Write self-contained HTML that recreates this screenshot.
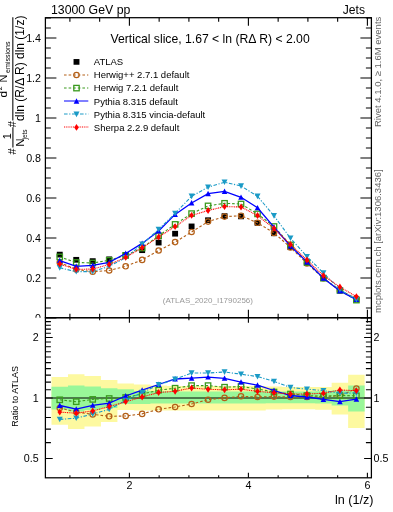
<!DOCTYPE html>
<html><head><meta charset="utf-8"><title>plot</title>
<style>html,body{margin:0;padding:0;background:#fff;}body{width:393px;height:512px;overflow:hidden;}svg{display:block;will-change:transform;font-family:"Liberation Sans",sans-serif;}</style>
</head><body><svg width="393" height="512" viewBox="0 0 393 512" font-family="Liberation Sans, sans-serif"><path d="M51.5 377.1H67.98V374.3H84.46V376H100.94V380.1H117.42V383.5H133.9V384.5H150.38V385.5H166.86V386H183.34V386H199.82V386H216.3V386H232.78V386H249.26V386H265.74V386.5H282.22V387H298.7V387H315.18V386.9H331.66V382.8H348.14V374.8H364.62V428H348.14V414.4H331.66V409.8H315.18V409.3H298.7V409.3H282.22V409.5H265.74V410.5H249.26V410.5H232.78V410.5H216.3V410.5H199.82V410.5H183.34V410.5H166.86V410.5H150.38V410.5H133.9V410H117.42V422H100.94V426.5H84.46V429H67.98V424.7H51.5Z" fill="#fdf9a0"/><path d="M51.5 386.7H67.98V385.5H84.46V386.4H100.94V388.2H117.42V389.2H133.9V391H150.38V391.3H166.86V391.5H183.34V391.5H199.82V391.5H216.3V391.5H232.78V391.5H249.26V391.5H265.74V391.5H282.22V391.5H298.7V391.5H315.18V391.2H331.66V390.3H348.14V385.5H364.62V411.5H348.14V405.4H331.66V403.5H315.18V403.2H298.7V403.2H282.22V403.3H265.74V403.5H249.26V403.5H232.78V403.5H216.3V403.5H199.82V403.5H183.34V403.5H166.86V403.5H150.38V404H133.9V404H117.42V408H100.94V410H84.46V411.5H67.98V409.5H51.5Z" fill="#99f799"/><line x1="45.4" y1="398" x2="371.4" y2="398" stroke="#000" stroke-width="1.0"/><rect x="45.4" y="17.7" width="326" height="300" fill="none" stroke="#000" stroke-width="1.25"/><rect x="45.4" y="317.7" width="326" height="160.1" fill="none" stroke="#000" stroke-width="1.25"/><path d="M45.4 318h11M371.4 318h-11M45.4 308h5.5M371.4 308h-5.5M45.4 298h5.5M371.4 298h-5.5M45.4 288h5.5M371.4 288h-5.5M45.4 278h11M371.4 278h-11M45.4 268h5.5M371.4 268h-5.5M45.4 258h5.5M371.4 258h-5.5M45.4 248h5.5M371.4 248h-5.5M45.4 238h11M371.4 238h-11M45.4 228h5.5M371.4 228h-5.5M45.4 218h5.5M371.4 218h-5.5M45.4 208h5.5M371.4 208h-5.5M45.4 198h11M371.4 198h-11M45.4 188h5.5M371.4 188h-5.5M45.4 178h5.5M371.4 178h-5.5M45.4 168h5.5M371.4 168h-5.5M45.4 158h11M371.4 158h-11M45.4 148h5.5M371.4 148h-5.5M45.4 138h5.5M371.4 138h-5.5M45.4 128h5.5M371.4 128h-5.5M45.4 118h11M371.4 118h-11M45.4 108h5.5M371.4 108h-5.5M45.4 98h5.5M371.4 98h-5.5M45.4 88h5.5M371.4 88h-5.5M45.4 78h11M371.4 78h-11M45.4 68h5.5M371.4 68h-5.5M45.4 58h5.5M371.4 58h-5.5M45.4 48h5.5M371.4 48h-5.5M45.4 38h11M371.4 38h-11M45.4 28h5.5M371.4 28h-5.5M45.4 18h5.5M371.4 18h-5.5M69.9 317.7v-4M69.9 17.7v4M69.9 477.8v-2.5M69.9 317.7v2.5M99.65 317.7v-4M99.65 17.7v4M99.65 477.8v-2.5M99.65 317.7v2.5M129.4 317.7v-8M129.4 17.7v8M129.4 477.8v-5M129.4 317.7v5M159.15 317.7v-4M159.15 17.7v4M159.15 477.8v-2.5M159.15 317.7v2.5M188.9 317.7v-4M188.9 17.7v4M188.9 477.8v-2.5M188.9 317.7v2.5M218.65 317.7v-4M218.65 17.7v4M218.65 477.8v-2.5M218.65 317.7v2.5M248.4 317.7v-8M248.4 17.7v8M248.4 477.8v-5M248.4 317.7v5M278.15 317.7v-4M278.15 17.7v4M278.15 477.8v-2.5M278.15 317.7v2.5M307.9 317.7v-4M307.9 17.7v4M307.9 477.8v-2.5M307.9 317.7v2.5M337.65 317.7v-4M337.65 17.7v4M337.65 477.8v-2.5M337.65 317.7v2.5M367.4 317.7v-8M367.4 17.7v8M367.4 477.8v-5M367.4 317.7v5M45.4 458.51h7.3M371.4 458.51h-7.3M45.4 442.59h5.5M371.4 442.59h-5.5M45.4 429.14h5.5M371.4 429.14h-5.5M45.4 417.48h5.5M371.4 417.48h-5.5M45.4 407.2h5.5M371.4 407.2h-5.5M45.4 398h7.3M371.4 398h-7.3M45.4 389.68h5.5M371.4 389.68h-5.5M45.4 382.08h5.5M371.4 382.08h-5.5M45.4 375.1h5.5M371.4 375.1h-5.5M45.4 368.63h5.5M371.4 368.63h-5.5M45.4 362.61h5.5M371.4 362.61h-5.5M45.4 356.97h5.5M371.4 356.97h-5.5M45.4 351.68h5.5M371.4 351.68h-5.5M45.4 346.69h5.5M371.4 346.69h-5.5M45.4 341.97h5.5M371.4 341.97h-5.5M45.4 337.49h7.3M371.4 337.49h-7.3M45.4 333.23h5.5M371.4 333.23h-5.5M45.4 329.17h5.5M371.4 329.17h-5.5M45.4 325.29h5.5M371.4 325.29h-5.5M45.4 321.58h5.5M371.4 321.58h-5.5" stroke="#000" stroke-width="1.1" fill="none"/><rect x="56.8" y="251.75" width="5.9" height="5.7" fill="#000"/><rect x="73.28" y="256.95" width="5.9" height="5.7" fill="#000"/><rect x="89.76" y="258.25" width="5.9" height="5.7" fill="#000"/><rect x="106.24" y="256.45" width="5.9" height="5.7" fill="#000"/><rect x="122.72" y="252.05" width="5.9" height="5.7" fill="#000"/><rect x="139.2" y="247.35" width="5.9" height="5.7" fill="#000"/><rect x="155.68" y="239.75" width="5.9" height="5.7" fill="#000"/><rect x="172.16" y="230.85" width="5.9" height="5.7" fill="#000"/><rect x="188.64" y="223.55" width="5.9" height="5.7" fill="#000"/><rect x="205.12" y="217.35" width="5.9" height="5.7" fill="#000"/><rect x="221.6" y="213.25" width="5.9" height="5.7" fill="#000"/><rect x="238.08" y="213.55" width="5.9" height="5.7" fill="#000"/><rect x="254.56" y="220.05" width="5.9" height="5.7" fill="#000"/><rect x="271.04" y="230.45" width="5.9" height="5.7" fill="#000"/><rect x="287.52" y="244.35" width="5.9" height="5.7" fill="#000"/><rect x="304" y="260.15" width="5.9" height="5.7" fill="#000"/><rect x="320.48" y="275.15" width="5.9" height="5.7" fill="#000"/><rect x="336.96" y="287.35" width="5.9" height="5.7" fill="#000"/><rect x="353.44" y="296.75" width="5.9" height="5.7" fill="#000"/><path d="M59.75 262.5 L76.23 269.4 L92.71 271.8 L109.19 270.5 L125.67 266.3 L142.15 259.9 L158.63 250.5 L175.11 242.1 L191.59 232 L208.07 221.6 L224.55 216.6 L241.03 215.7 L257.51 222.8 L273.99 232.9 L290.47 247.4 L306.95 263.4 L323.43 278.3 L339.91 290.5 L356.39 298.5" fill="none" stroke="#b35f17" stroke-width="1.1" stroke-dasharray="2.6,2.0"/><circle cx="59.75" cy="262.5" r="2.7" fill="none" stroke="#b35f17" stroke-width="1.2"/><circle cx="76.23" cy="269.4" r="2.7" fill="none" stroke="#b35f17" stroke-width="1.2"/><circle cx="92.71" cy="271.8" r="2.7" fill="none" stroke="#b35f17" stroke-width="1.2"/><circle cx="109.19" cy="270.5" r="2.7" fill="none" stroke="#b35f17" stroke-width="1.2"/><circle cx="125.67" cy="266.3" r="2.7" fill="none" stroke="#b35f17" stroke-width="1.2"/><circle cx="142.15" cy="259.9" r="2.7" fill="none" stroke="#b35f17" stroke-width="1.2"/><circle cx="158.63" cy="250.5" r="2.7" fill="none" stroke="#b35f17" stroke-width="1.2"/><circle cx="175.11" cy="242.1" r="2.7" fill="none" stroke="#b35f17" stroke-width="1.2"/><circle cx="191.59" cy="232" r="2.7" fill="none" stroke="#b35f17" stroke-width="1.2"/><circle cx="208.07" cy="221.6" r="2.7" fill="none" stroke="#b35f17" stroke-width="1.2"/><circle cx="224.55" cy="216.6" r="2.7" fill="none" stroke="#b35f17" stroke-width="1.2"/><circle cx="241.03" cy="215.7" r="2.7" fill="none" stroke="#b35f17" stroke-width="1.2"/><circle cx="257.51" cy="222.8" r="2.7" fill="none" stroke="#b35f17" stroke-width="1.2"/><circle cx="273.99" cy="232.9" r="2.7" fill="none" stroke="#b35f17" stroke-width="1.2"/><circle cx="290.47" cy="247.4" r="2.7" fill="none" stroke="#b35f17" stroke-width="1.2"/><circle cx="306.95" cy="263.4" r="2.7" fill="none" stroke="#b35f17" stroke-width="1.2"/><circle cx="323.43" cy="278.3" r="2.7" fill="none" stroke="#b35f17" stroke-width="1.2"/><circle cx="339.91" cy="290.5" r="2.7" fill="none" stroke="#b35f17" stroke-width="1.2"/><circle cx="356.39" cy="298.5" r="2.7" fill="none" stroke="#b35f17" stroke-width="1.2"/><path d="M59.75 256.9 L76.23 262.5 L92.71 263 L109.19 260.3 L125.67 255.5 L142.15 248 L158.63 235.8 L175.11 224.4 L191.59 213.6 L208.07 205.9 L224.55 203.3 L241.03 204 L257.51 213.9 L273.99 226.5 L290.47 244.9 L306.95 262.4 L323.43 278.2 L339.91 290.4 L356.39 300.1" fill="none" stroke="#3a9a1e" stroke-width="1.1" stroke-dasharray="2.6,2.0"/><rect x="57.05" y="254.2" width="5.4" height="5.4" fill="none" stroke="#3a9a1e" stroke-width="1.3"/><rect x="73.53" y="259.8" width="5.4" height="5.4" fill="none" stroke="#3a9a1e" stroke-width="1.3"/><rect x="90.01" y="260.3" width="5.4" height="5.4" fill="none" stroke="#3a9a1e" stroke-width="1.3"/><rect x="106.49" y="257.6" width="5.4" height="5.4" fill="none" stroke="#3a9a1e" stroke-width="1.3"/><rect x="122.97" y="252.8" width="5.4" height="5.4" fill="none" stroke="#3a9a1e" stroke-width="1.3"/><rect x="139.45" y="245.3" width="5.4" height="5.4" fill="none" stroke="#3a9a1e" stroke-width="1.3"/><rect x="155.93" y="233.1" width="5.4" height="5.4" fill="none" stroke="#3a9a1e" stroke-width="1.3"/><rect x="172.41" y="221.7" width="5.4" height="5.4" fill="none" stroke="#3a9a1e" stroke-width="1.3"/><rect x="188.89" y="210.9" width="5.4" height="5.4" fill="none" stroke="#3a9a1e" stroke-width="1.3"/><rect x="205.37" y="203.2" width="5.4" height="5.4" fill="none" stroke="#3a9a1e" stroke-width="1.3"/><rect x="221.85" y="200.6" width="5.4" height="5.4" fill="none" stroke="#3a9a1e" stroke-width="1.3"/><rect x="238.33" y="201.3" width="5.4" height="5.4" fill="none" stroke="#3a9a1e" stroke-width="1.3"/><rect x="254.81" y="211.2" width="5.4" height="5.4" fill="none" stroke="#3a9a1e" stroke-width="1.3"/><rect x="271.29" y="223.8" width="5.4" height="5.4" fill="none" stroke="#3a9a1e" stroke-width="1.3"/><rect x="287.77" y="242.2" width="5.4" height="5.4" fill="none" stroke="#3a9a1e" stroke-width="1.3"/><rect x="304.25" y="259.7" width="5.4" height="5.4" fill="none" stroke="#3a9a1e" stroke-width="1.3"/><rect x="320.73" y="275.5" width="5.4" height="5.4" fill="none" stroke="#3a9a1e" stroke-width="1.3"/><rect x="337.21" y="287.7" width="5.4" height="5.4" fill="none" stroke="#3a9a1e" stroke-width="1.3"/><rect x="353.69" y="297.4" width="5.4" height="5.4" fill="none" stroke="#3a9a1e" stroke-width="1.3"/><path d="M59.75 260.6 L76.23 266.3 L92.71 265.4 L109.19 262.4 L125.67 253.5 L142.15 243.4 L158.63 230.9 L175.11 214.4 L191.59 203 L208.07 193.7 L224.55 191.4 L241.03 197.3 L257.51 207.8 L273.99 227.2 L290.47 246.1 L306.95 261.9 L323.43 278.2 L339.91 290.9 L356.39 299.6" fill="none" stroke="#0000ff" stroke-width="1.3"/><path d="M56.95 263.1L62.55 263.1L59.75 257.7Z" fill="#0000ff"/><path d="M73.43 268.8L79.03 268.8L76.23 263.4Z" fill="#0000ff"/><path d="M89.91 267.9L95.51 267.9L92.71 262.5Z" fill="#0000ff"/><path d="M106.39 264.9L111.99 264.9L109.19 259.5Z" fill="#0000ff"/><path d="M122.87 256L128.47 256L125.67 250.6Z" fill="#0000ff"/><path d="M139.35 245.9L144.95 245.9L142.15 240.5Z" fill="#0000ff"/><path d="M155.83 233.4L161.43 233.4L158.63 228Z" fill="#0000ff"/><path d="M172.31 216.9L177.91 216.9L175.11 211.5Z" fill="#0000ff"/><path d="M188.79 205.5L194.39 205.5L191.59 200.1Z" fill="#0000ff"/><path d="M205.27 196.2L210.87 196.2L208.07 190.8Z" fill="#0000ff"/><path d="M221.75 193.9L227.35 193.9L224.55 188.5Z" fill="#0000ff"/><path d="M238.23 199.8L243.83 199.8L241.03 194.4Z" fill="#0000ff"/><path d="M254.71 210.3L260.31 210.3L257.51 204.9Z" fill="#0000ff"/><path d="M271.19 229.7L276.79 229.7L273.99 224.3Z" fill="#0000ff"/><path d="M287.67 248.6L293.27 248.6L290.47 243.2Z" fill="#0000ff"/><path d="M304.15 264.4L309.75 264.4L306.95 259Z" fill="#0000ff"/><path d="M320.63 280.7L326.23 280.7L323.43 275.3Z" fill="#0000ff"/><path d="M337.11 293.4L342.71 293.4L339.91 288Z" fill="#0000ff"/><path d="M353.59 302.1L359.19 302.1L356.39 296.7Z" fill="#0000ff"/><path d="M59.75 267.8 L76.23 271.7 L92.71 271.6 L109.19 266.3 L125.67 257.7 L142.15 244.2 L158.63 229.4 L175.11 213.4 L191.59 196.3 L208.07 187.2 L224.55 182.2 L241.03 186 L257.51 196.3 L273.99 215.8 L290.47 238.2 L306.95 256.6 L323.43 272.9 L339.91 289.6 L356.39 299.5" fill="none" stroke="#1a9ac6" stroke-width="1.1" stroke-dasharray="3.6,1.6,1.2,1.6"/><path d="M56.75 265.1L62.75 265.1L59.75 270.7Z" fill="#1a9ac6"/><path d="M73.23 269L79.23 269L76.23 274.6Z" fill="#1a9ac6"/><path d="M89.71 268.9L95.71 268.9L92.71 274.5Z" fill="#1a9ac6"/><path d="M106.19 263.6L112.19 263.6L109.19 269.2Z" fill="#1a9ac6"/><path d="M122.67 255L128.67 255L125.67 260.6Z" fill="#1a9ac6"/><path d="M139.15 241.5L145.15 241.5L142.15 247.1Z" fill="#1a9ac6"/><path d="M155.63 226.7L161.63 226.7L158.63 232.3Z" fill="#1a9ac6"/><path d="M172.11 210.7L178.11 210.7L175.11 216.3Z" fill="#1a9ac6"/><path d="M188.59 193.6L194.59 193.6L191.59 199.2Z" fill="#1a9ac6"/><path d="M205.07 184.5L211.07 184.5L208.07 190.1Z" fill="#1a9ac6"/><path d="M221.55 179.5L227.55 179.5L224.55 185.1Z" fill="#1a9ac6"/><path d="M238.03 183.3L244.03 183.3L241.03 188.9Z" fill="#1a9ac6"/><path d="M254.51 193.6L260.51 193.6L257.51 199.2Z" fill="#1a9ac6"/><path d="M270.99 213.1L276.99 213.1L273.99 218.7Z" fill="#1a9ac6"/><path d="M287.47 235.5L293.47 235.5L290.47 241.1Z" fill="#1a9ac6"/><path d="M303.95 253.9L309.95 253.9L306.95 259.5Z" fill="#1a9ac6"/><path d="M320.43 270.2L326.43 270.2L323.43 275.8Z" fill="#1a9ac6"/><path d="M336.91 286.9L342.91 286.9L339.91 292.5Z" fill="#1a9ac6"/><path d="M353.39 296.8L359.39 296.8L356.39 302.4Z" fill="#1a9ac6"/><path d="M59.75 264 L76.23 269.4 L92.71 269 L109.19 264.4 L125.67 257.4 L142.15 247.7 L158.63 237 L175.11 226.6 L191.59 215.4 L208.07 210.5 L224.55 206.6 L241.03 207 L257.51 215.5 L273.99 228.5 L290.47 244.4 L306.95 260 L323.43 275.6 L339.91 287 L356.39 296.6" fill="none" stroke="#ff0000" stroke-width="1.1" stroke-dasharray="1,0.8"/><path d="M59.75 260.6L62.05 264L59.75 267.4L57.45 264Z" fill="#ff0000"/><path d="M76.23 266L78.53 269.4L76.23 272.8L73.93 269.4Z" fill="#ff0000"/><path d="M92.71 265.6L95.01 269L92.71 272.4L90.41 269Z" fill="#ff0000"/><path d="M109.19 261L111.49 264.4L109.19 267.8L106.89 264.4Z" fill="#ff0000"/><path d="M125.67 254L127.97 257.4L125.67 260.8L123.37 257.4Z" fill="#ff0000"/><path d="M142.15 244.3L144.45 247.7L142.15 251.1L139.85 247.7Z" fill="#ff0000"/><path d="M158.63 233.6L160.93 237L158.63 240.4L156.33 237Z" fill="#ff0000"/><path d="M175.11 223.2L177.41 226.6L175.11 230L172.81 226.6Z" fill="#ff0000"/><path d="M191.59 212L193.89 215.4L191.59 218.8L189.29 215.4Z" fill="#ff0000"/><path d="M208.07 207.1L210.37 210.5L208.07 213.9L205.77 210.5Z" fill="#ff0000"/><path d="M224.55 203.2L226.85 206.6L224.55 210L222.25 206.6Z" fill="#ff0000"/><path d="M241.03 203.6L243.33 207L241.03 210.4L238.73 207Z" fill="#ff0000"/><path d="M257.51 212.1L259.81 215.5L257.51 218.9L255.21 215.5Z" fill="#ff0000"/><path d="M273.99 225.1L276.29 228.5L273.99 231.9L271.69 228.5Z" fill="#ff0000"/><path d="M290.47 241L292.77 244.4L290.47 247.8L288.17 244.4Z" fill="#ff0000"/><path d="M306.95 256.6L309.25 260L306.95 263.4L304.65 260Z" fill="#ff0000"/><path d="M323.43 272.2L325.73 275.6L323.43 279L321.13 275.6Z" fill="#ff0000"/><path d="M339.91 283.6L342.21 287L339.91 290.4L337.61 287Z" fill="#ff0000"/><path d="M356.39 293.2L358.69 296.6L356.39 300L354.09 296.6Z" fill="#ff0000"/><path d="M59.75 408 L76.23 412 L92.71 414.4 L109.19 416.3 L125.67 416 L142.15 413.9 L158.63 409.3 L175.11 407 L191.59 404 L208.07 399.7 L224.55 397.9 L241.03 396.3 L257.51 397 L273.99 396.6 L290.47 397 L306.95 397 L323.43 396.5 L339.91 395.8 L356.39 388.5" fill="none" stroke="#b35f17" stroke-width="1.1" stroke-dasharray="2.6,2.0"/><circle cx="59.75" cy="408" r="2.7" fill="none" stroke="#b35f17" stroke-width="1.2"/><circle cx="76.23" cy="412" r="2.7" fill="none" stroke="#b35f17" stroke-width="1.2"/><circle cx="92.71" cy="414.4" r="2.7" fill="none" stroke="#b35f17" stroke-width="1.2"/><circle cx="109.19" cy="416.3" r="2.7" fill="none" stroke="#b35f17" stroke-width="1.2"/><circle cx="125.67" cy="416" r="2.7" fill="none" stroke="#b35f17" stroke-width="1.2"/><circle cx="142.15" cy="413.9" r="2.7" fill="none" stroke="#b35f17" stroke-width="1.2"/><circle cx="158.63" cy="409.3" r="2.7" fill="none" stroke="#b35f17" stroke-width="1.2"/><circle cx="175.11" cy="407" r="2.7" fill="none" stroke="#b35f17" stroke-width="1.2"/><circle cx="191.59" cy="404" r="2.7" fill="none" stroke="#b35f17" stroke-width="1.2"/><circle cx="208.07" cy="399.7" r="2.7" fill="none" stroke="#b35f17" stroke-width="1.2"/><circle cx="224.55" cy="397.9" r="2.7" fill="none" stroke="#b35f17" stroke-width="1.2"/><circle cx="241.03" cy="396.3" r="2.7" fill="none" stroke="#b35f17" stroke-width="1.2"/><circle cx="257.51" cy="397" r="2.7" fill="none" stroke="#b35f17" stroke-width="1.2"/><circle cx="273.99" cy="396.6" r="2.7" fill="none" stroke="#b35f17" stroke-width="1.2"/><circle cx="290.47" cy="397" r="2.7" fill="none" stroke="#b35f17" stroke-width="1.2"/><circle cx="306.95" cy="397" r="2.7" fill="none" stroke="#b35f17" stroke-width="1.2"/><circle cx="323.43" cy="396.5" r="2.7" fill="none" stroke="#b35f17" stroke-width="1.2"/><circle cx="339.91" cy="395.8" r="2.7" fill="none" stroke="#b35f17" stroke-width="1.2"/><circle cx="356.39" cy="388.5" r="2.7" fill="none" stroke="#b35f17" stroke-width="1.2"/><path d="M59.75 399.8 L76.23 401.7 L92.71 399.4 L109.19 398.5 L125.67 397.5 L142.15 394 L158.63 390.2 L175.11 388.2 L191.59 385.6 L208.07 385.6 L224.55 387.2 L241.03 386.5 L257.51 389 L273.99 392 L290.47 394 L306.95 395.5 L323.43 396.3 L339.91 395.5 L356.39 395.8" fill="none" stroke="#3a9a1e" stroke-width="1.1" stroke-dasharray="2.6,2.0"/><rect x="57.05" y="397.1" width="5.4" height="5.4" fill="none" stroke="#3a9a1e" stroke-width="1.3"/><rect x="73.53" y="399" width="5.4" height="5.4" fill="none" stroke="#3a9a1e" stroke-width="1.3"/><rect x="90.01" y="396.7" width="5.4" height="5.4" fill="none" stroke="#3a9a1e" stroke-width="1.3"/><rect x="106.49" y="395.8" width="5.4" height="5.4" fill="none" stroke="#3a9a1e" stroke-width="1.3"/><rect x="122.97" y="394.8" width="5.4" height="5.4" fill="none" stroke="#3a9a1e" stroke-width="1.3"/><rect x="139.45" y="391.3" width="5.4" height="5.4" fill="none" stroke="#3a9a1e" stroke-width="1.3"/><rect x="155.93" y="387.5" width="5.4" height="5.4" fill="none" stroke="#3a9a1e" stroke-width="1.3"/><rect x="172.41" y="385.5" width="5.4" height="5.4" fill="none" stroke="#3a9a1e" stroke-width="1.3"/><rect x="188.89" y="382.9" width="5.4" height="5.4" fill="none" stroke="#3a9a1e" stroke-width="1.3"/><rect x="205.37" y="382.9" width="5.4" height="5.4" fill="none" stroke="#3a9a1e" stroke-width="1.3"/><rect x="221.85" y="384.5" width="5.4" height="5.4" fill="none" stroke="#3a9a1e" stroke-width="1.3"/><rect x="238.33" y="383.8" width="5.4" height="5.4" fill="none" stroke="#3a9a1e" stroke-width="1.3"/><rect x="254.81" y="386.3" width="5.4" height="5.4" fill="none" stroke="#3a9a1e" stroke-width="1.3"/><rect x="271.29" y="389.3" width="5.4" height="5.4" fill="none" stroke="#3a9a1e" stroke-width="1.3"/><rect x="287.77" y="391.3" width="5.4" height="5.4" fill="none" stroke="#3a9a1e" stroke-width="1.3"/><rect x="304.25" y="392.8" width="5.4" height="5.4" fill="none" stroke="#3a9a1e" stroke-width="1.3"/><rect x="320.73" y="393.6" width="5.4" height="5.4" fill="none" stroke="#3a9a1e" stroke-width="1.3"/><rect x="337.21" y="392.8" width="5.4" height="5.4" fill="none" stroke="#3a9a1e" stroke-width="1.3"/><rect x="353.69" y="393.1" width="5.4" height="5.4" fill="none" stroke="#3a9a1e" stroke-width="1.3"/><path d="M59.75 405.5 L76.23 409.1 L92.71 405.3 L109.19 403.2 L125.67 396 L142.15 390.2 L158.63 384.5 L175.11 379 L191.59 378.2 L208.07 377.1 L224.55 378.3 L241.03 382.1 L257.51 385.2 L273.99 390.5 L290.47 395.5 L306.95 397 L323.43 399.4 L339.91 401.7 L356.39 399.2" fill="none" stroke="#0000ff" stroke-width="1.3"/><path d="M56.95 408L62.55 408L59.75 402.6Z" fill="#0000ff"/><path d="M73.43 411.6L79.03 411.6L76.23 406.2Z" fill="#0000ff"/><path d="M89.91 407.8L95.51 407.8L92.71 402.4Z" fill="#0000ff"/><path d="M106.39 405.7L111.99 405.7L109.19 400.3Z" fill="#0000ff"/><path d="M122.87 398.5L128.47 398.5L125.67 393.1Z" fill="#0000ff"/><path d="M139.35 392.7L144.95 392.7L142.15 387.3Z" fill="#0000ff"/><path d="M155.83 387L161.43 387L158.63 381.6Z" fill="#0000ff"/><path d="M172.31 381.5L177.91 381.5L175.11 376.1Z" fill="#0000ff"/><path d="M188.79 380.7L194.39 380.7L191.59 375.3Z" fill="#0000ff"/><path d="M205.27 379.6L210.87 379.6L208.07 374.2Z" fill="#0000ff"/><path d="M221.75 380.8L227.35 380.8L224.55 375.4Z" fill="#0000ff"/><path d="M238.23 384.6L243.83 384.6L241.03 379.2Z" fill="#0000ff"/><path d="M254.71 387.7L260.31 387.7L257.51 382.3Z" fill="#0000ff"/><path d="M271.19 393L276.79 393L273.99 387.6Z" fill="#0000ff"/><path d="M287.67 398L293.27 398L290.47 392.6Z" fill="#0000ff"/><path d="M304.15 399.5L309.75 399.5L306.95 394.1Z" fill="#0000ff"/><path d="M320.63 401.9L326.23 401.9L323.43 396.5Z" fill="#0000ff"/><path d="M337.11 404.2L342.71 404.2L339.91 398.8Z" fill="#0000ff"/><path d="M353.59 401.7L359.19 401.7L356.39 396.3Z" fill="#0000ff"/><path d="M59.75 419.4 L76.23 418.2 L92.71 414 L109.19 409.4 L125.67 400.5 L142.15 392.5 L158.63 384.8 L175.11 379.3 L191.59 373 L208.07 373 L224.55 372 L241.03 374.2 L257.51 376.6 L273.99 381.4 L290.47 387.5 L306.95 389.1 L323.43 390.6 L339.91 393.2 L356.39 393" fill="none" stroke="#1a9ac6" stroke-width="1.1" stroke-dasharray="3.6,1.6,1.2,1.6"/><path d="M56.75 416.7L62.75 416.7L59.75 422.3Z" fill="#1a9ac6"/><path d="M73.23 415.5L79.23 415.5L76.23 421.1Z" fill="#1a9ac6"/><path d="M89.71 411.3L95.71 411.3L92.71 416.9Z" fill="#1a9ac6"/><path d="M106.19 406.7L112.19 406.7L109.19 412.3Z" fill="#1a9ac6"/><path d="M122.67 397.8L128.67 397.8L125.67 403.4Z" fill="#1a9ac6"/><path d="M139.15 389.8L145.15 389.8L142.15 395.4Z" fill="#1a9ac6"/><path d="M155.63 382.1L161.63 382.1L158.63 387.7Z" fill="#1a9ac6"/><path d="M172.11 376.6L178.11 376.6L175.11 382.2Z" fill="#1a9ac6"/><path d="M188.59 370.3L194.59 370.3L191.59 375.9Z" fill="#1a9ac6"/><path d="M205.07 370.3L211.07 370.3L208.07 375.9Z" fill="#1a9ac6"/><path d="M221.55 369.3L227.55 369.3L224.55 374.9Z" fill="#1a9ac6"/><path d="M238.03 371.5L244.03 371.5L241.03 377.1Z" fill="#1a9ac6"/><path d="M254.51 373.9L260.51 373.9L257.51 379.5Z" fill="#1a9ac6"/><path d="M270.99 378.7L276.99 378.7L273.99 384.3Z" fill="#1a9ac6"/><path d="M287.47 384.8L293.47 384.8L290.47 390.4Z" fill="#1a9ac6"/><path d="M303.95 386.4L309.95 386.4L306.95 392Z" fill="#1a9ac6"/><path d="M320.43 387.9L326.43 387.9L323.43 393.5Z" fill="#1a9ac6"/><path d="M336.91 390.5L342.91 390.5L339.91 396.1Z" fill="#1a9ac6"/><path d="M353.39 390.3L359.39 390.3L356.39 395.9Z" fill="#1a9ac6"/><path d="M59.75 412.1 L76.23 413.2 L92.71 410.9 L109.19 406.6 L125.67 401.7 L142.15 397 L158.63 392.5 L175.11 391.3 L191.59 388 L208.07 389.3 L224.55 389.8 L241.03 389.2 L257.51 391.3 L273.99 392.8 L290.47 394 L306.95 394 L323.43 393.2 L339.91 390 L356.39 390.7" fill="none" stroke="#ff0000" stroke-width="1.1" stroke-dasharray="1,0.8"/><path d="M59.75 408.7L62.05 412.1L59.75 415.5L57.45 412.1Z" fill="#ff0000"/><path d="M76.23 409.8L78.53 413.2L76.23 416.6L73.93 413.2Z" fill="#ff0000"/><path d="M92.71 407.5L95.01 410.9L92.71 414.3L90.41 410.9Z" fill="#ff0000"/><path d="M109.19 403.2L111.49 406.6L109.19 410L106.89 406.6Z" fill="#ff0000"/><path d="M125.67 398.3L127.97 401.7L125.67 405.1L123.37 401.7Z" fill="#ff0000"/><path d="M142.15 393.6L144.45 397L142.15 400.4L139.85 397Z" fill="#ff0000"/><path d="M158.63 389.1L160.93 392.5L158.63 395.9L156.33 392.5Z" fill="#ff0000"/><path d="M175.11 387.9L177.41 391.3L175.11 394.7L172.81 391.3Z" fill="#ff0000"/><path d="M191.59 384.6L193.89 388L191.59 391.4L189.29 388Z" fill="#ff0000"/><path d="M208.07 385.9L210.37 389.3L208.07 392.7L205.77 389.3Z" fill="#ff0000"/><path d="M224.55 386.4L226.85 389.8L224.55 393.2L222.25 389.8Z" fill="#ff0000"/><path d="M241.03 385.8L243.33 389.2L241.03 392.6L238.73 389.2Z" fill="#ff0000"/><path d="M257.51 387.9L259.81 391.3L257.51 394.7L255.21 391.3Z" fill="#ff0000"/><path d="M273.99 389.4L276.29 392.8L273.99 396.2L271.69 392.8Z" fill="#ff0000"/><path d="M290.47 390.6L292.77 394L290.47 397.4L288.17 394Z" fill="#ff0000"/><path d="M306.95 390.6L309.25 394L306.95 397.4L304.65 394Z" fill="#ff0000"/><path d="M323.43 389.8L325.73 393.2L323.43 396.6L321.13 393.2Z" fill="#ff0000"/><path d="M339.91 386.6L342.21 390L339.91 393.4L337.61 390Z" fill="#ff0000"/><path d="M356.39 387.3L358.69 390.7L356.39 394.1L354.09 390.7Z" fill="#ff0000"/><rect x="73.55" y="59.05" width="5.9" height="5.7" fill="#000"/><text x="93.8" y="65.2" font-size="9.5">ATLAS</text><line x1="64" y1="75" x2="88.3" y2="75" stroke="#b35f17" stroke-width="1.0" stroke-dasharray="2.6,2.0"/><circle cx="76.5" cy="75" r="2.7" fill="none" stroke="#b35f17" stroke-width="1.2"/><text x="93.8" y="78.3" font-size="9.5">Herwig++ 2.7.1 default</text><line x1="64" y1="88" x2="88.3" y2="88" stroke="#3a9a1e" stroke-width="1.0" stroke-dasharray="2.6,2.0"/><rect x="73.8" y="85.4" width="5.4" height="5.4" fill="none" stroke="#3a9a1e" stroke-width="1.3"/><text x="93.8" y="91.4" font-size="9.5">Herwig 7.2.1 default</text><line x1="64" y1="101" x2="88.3" y2="101" stroke="#0000ff" stroke-width="1.0"/><path d="M73.7 103.7L79.3 103.7L76.5 98.3Z" fill="#0000ff"/><text x="93.8" y="104.5" font-size="9.5">Pythia 8.315 default</text><line x1="64" y1="114" x2="88.3" y2="114" stroke="#1a9ac6" stroke-width="1.0" stroke-dasharray="3.6,1.6,1.2,1.6"/><path d="M73.5 111.6L79.5 111.6L76.5 117.2Z" fill="#1a9ac6"/><text x="93.8" y="117.6" font-size="9.5">Pythia 8.315 vincia-default</text><line x1="64" y1="127" x2="88.3" y2="127" stroke="#ff0000" stroke-width="1.0" stroke-dasharray="1,0.8"/><path d="M76.5 124L78.8 127.4L76.5 130.8L74.2 127.4Z" fill="#ff0000"/><text x="93.8" y="130.7" font-size="9.5">Sherpa 2.2.9 default</text><text x="51" y="14.2" font-size="12.3">13000 GeV pp</text><text x="365" y="14.2" font-size="12.1" text-anchor="end">Jets</text><text x="110.5" y="43.4" font-size="12.2">Vertical slice, 1.67 &lt; ln (RΔ R) &lt; 2.00</text><text x="162.8" y="303.3" font-size="8" fill="#999">(ATLAS_2020_I1790256)</text><text x="41" y="41.9" font-size="10.7" text-anchor="end">1.4</text><text x="41" y="81.9" font-size="10.7" text-anchor="end">1.2</text><text x="41" y="121.9" font-size="10.7" text-anchor="end">1</text><text x="41" y="161.9" font-size="10.7" text-anchor="end">0.8</text><text x="41" y="201.9" font-size="10.7" text-anchor="end">0.6</text><text x="41" y="241.9" font-size="10.7" text-anchor="end">0.4</text><text x="41" y="281.9" font-size="10.7" text-anchor="end">0.2</text><clipPath id="c0"><rect x="0" y="0" width="45" height="317.7"/></clipPath><text x="41" y="321.9" font-size="10.7" text-anchor="end" clip-path="url(#c0)">0</text><text x="38.6" y="341.39" font-size="10.7" text-anchor="end">2</text><text x="373.6" y="341.39" font-size="10.7">2</text><text x="38.6" y="401.9" font-size="10.7" text-anchor="end">1</text><text x="373.6" y="401.9" font-size="10.7">1</text><text x="38.6" y="462.41" font-size="10.7" text-anchor="end">0.5</text><text x="373.6" y="462.41" font-size="10.7">0.5</text><text x="129.4" y="489.4" font-size="10.7" text-anchor="middle">2</text><text x="248.4" y="489.4" font-size="10.7" text-anchor="middle">4</text><text x="367.4" y="489.4" font-size="10.7" text-anchor="middle">6</text><text x="373.5" y="503.8" font-size="12.6" text-anchor="end">ln (1/z)</text><text transform="translate(18.3 396.3) rotate(-90)" font-size="9" text-anchor="middle">Ratio to ATLAS</text><text transform="translate(380.7 127) rotate(-90)" font-size="9.5" fill="#666">Rivet 4.1.0, ≥ 1.6M events</text><text transform="translate(380.7 313) rotate(-90)" font-size="9.5" fill="#666">mcplots.cern.ch [arXiv:1306.3436]</text><g transform="rotate(-90)"><text x="-154.5" y="16.3" font-size="11">#</text><text x="-139.2" y="11.2" font-size="11">1</text><text x="-146.8" y="23.6" font-size="11.5">N</text><text x="-139.5" y="27.2" font-size="6.5">jets</text><text x="-127.3" y="16.3" font-size="11">#</text><text x="-121" y="23.5" font-size="12">dln (R/Δ R) dln (1/z)</text><text x="-97.6" y="7.0" font-size="11.8">d</text><text x="-90.3" y="1.9" font-size="7">2</text><text x="-82.6" y="6.85" font-size="10.8">N</text><text x="-73.0" y="10.3" font-size="7.1">emissions</text><path d="M-147.5 12.9H-127.3M-120.5 12.8H-17.3" stroke="#333" stroke-width="1.3"/></g></svg></body></html>
